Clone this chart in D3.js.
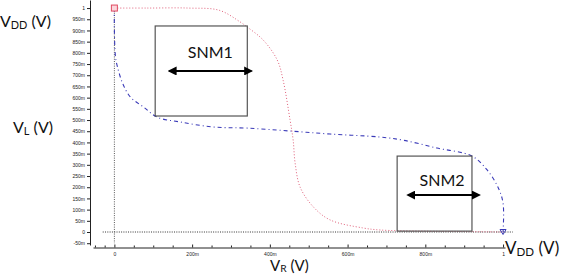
<!DOCTYPE html>
<html>
<head>
<meta charset="utf-8">
<script src="https://cdn.jsdelivr.net/npm/d3@7"></script>
<style>
  body { margin: 0; background: #fff; }
  svg { display: block; }
  .lbl { font-family: Lato, "Liberation Sans", sans-serif; fill: #111; }
  .axis text { font-family: "Liberation Sans", sans-serif; font-size: 5px; fill: #222; }
  .axis path, .axis line { stroke: #222; }
</style>
</head>
<body>
<div id="chart"></div>
<script>
// tick values / labels
var yTicks = [-0.05, 0, 0.05, 0.1, 0.15, 0.2, 0.25, 0.3, 0.35, 0.4, 0.45, 0.5, 0.55, 0.6, 0.65, 0.7, 0.75, 0.8, 0.85, 0.9, 0.95, 1]
var yTickLabels = ['-50m', '0', '50m', '100m', '150m', '200m', '250m', '300m', '350m', '400m', '450m', '500m', '550m', '600m', '650m', '700m', '750m', '800m', '850m', '900m', '950m', '1']
var xTicks = [0, 0.2, 0.4, 0.6, 0.8, 1]
var xTickLabels = ['0', '200m', '400m', '600m', '800m', '1']
var xMinorTicks = [-0.05, -0.025, 0.05, 0.1, 0.15, 0.25, 0.3, 0.35, 0.45, 0.5, 0.55, 0.65, 0.7, 0.75, 0.85, 0.9, 0.95]

// inverter 1 (red) : VR -> VL
var redX = [0, 0.085, 0.19, 0.27, 0.324, 0.342, 0.383, 0.419, 0.434, 0.452, 0.46, 0.465, 0.478, 0.512, 0.555, 0.64, 0.684, 0.787, 0.9, 1.0]
var redY = [1.0, 1.0, 1.0, 0.99, 0.9375, 0.915, 0.857, 0.768, 0.679, 0.5, 0.41, 0.308, 0.2, 0.112, 0.054, 0.018, 0.009, 0.004, 0.002, 0.0]

// inverter 2 (blue)
var blueX = [0, 0, 0.003, 0.008, 0.021, 0.041, 0.075, 0.11, 0.17, 0.254, 0.342, 0.452, 0.555, 0.684, 0.743, 0.83, 0.92, 0.959, 0.987, 1.0, 1.0]
var blueY = [1.0, 0.9, 0.78, 0.737, 0.665, 0.603, 0.558, 0.513, 0.491, 0.469, 0.464, 0.451, 0.4375, 0.424, 0.41, 0.375, 0.339, 0.277, 0.2, 0.129, 0.0]

// SNM boxes and arrows (data coordinates)
var snmNames = ['SNM1', 'SNM2']
var snmBoxX = [[0.105, 0.342], [0.7275, 0.92]]
var snmBoxY = [[0.518, 0.92], [0.004, 0.339]]
var snmArrowX = [[0.139, 0.355], [0.753, 0.941]]
var snmArrowY = [0.719, 0.165]
var snmTextX = [0.247, 0.843]
var snmTextY = [0.777, 0.205]

var width = 565
var height = 274

var x = d3.scaleLinear().domain([-0.055, 1.005]).range([93, 505])
var y = d3.scaleLinear().domain([-0.058, 1.036]).range([245, 0])

var svg = d3.select('#chart').append('svg')
    .attr('width', width)
    .attr('height', height)

var defs = svg.append('defs')
defs.append('marker')
    .attr('id', 'arrEnd')
    .attr('viewBox', '0 0 10 10')
    .attr('refX', 8).attr('refY', 5)
    .attr('markerWidth', 4.5).attr('markerHeight', 4.5)
    .attr('orient', 'auto-start-reverse')
    .append('path')
    .attr('d', 'M0,0 L10,5 L0,10 Z')
    .attr('fill', '#000')

// axes
var yAxis = d3.axisLeft(y)
    .tickValues(yTicks)
    .tickFormat(function(d, i) { return yTickLabels[i] })
    .tickSizeInner(3).tickSizeOuter(0).tickPadding(2)
svg.append('g').attr('class', 'axis')
    .attr('transform', 'translate(90,0)')
    .call(yAxis)

var xAxis = d3.axisBottom(x)
    .tickValues(xTicks)
    .tickFormat(function(d, i) { return xTickLabels[i] })
    .tickSizeInner(-3).tickSizeOuter(0).tickPadding(5)
svg.append('g').attr('class', 'axis')
    .attr('transform', 'translate(0,247.5)')
    .call(xAxis)

svg.append('g').attr('class', 'axis')
    .attr('transform', 'translate(0,247.5)')
    .call(d3.axisBottom(x).tickValues(xMinorTicks).tickFormat('').tickSizeInner(-2).tickSizeOuter(0))
    .select('.domain').remove()

// zero reference lines
svg.append('line')
    .attr('x1', x(-0.03)).attr('x2', x(1.025))
    .attr('y1', y(0)).attr('y2', y(0))
    .attr('stroke', '#333').attr('stroke-width', 1).attr('stroke-dasharray', '1,1.3')
svg.append('line')
    .attr('x1', x(0)).attr('x2', x(0))
    .attr('y1', y(1.01)).attr('y2', y(-0.05))
    .attr('stroke', '#555').attr('stroke-width', 1).attr('stroke-dasharray', '1,1.3')

// curves
var line = d3.line()
    .x(function(d) { return x(d[0]) })
    .y(function(d) { return y(d[1]) })
    .curve(d3.curveCatmullRom.alpha(0.5))

svg.append('path')
    .datum(blueX.map(function(v, i) { return [v, blueY[i]] }))
    .attr('d', line)
    .attr('fill', 'none')
    .attr('stroke', '#3a3ab8')
    .attr('stroke-width', 1.1)
    .attr('stroke-dasharray', '4,3,1,3')

svg.append('path')
    .datum(redX.map(function(v, i) { return [v, redY[i]] }))
    .attr('d', line)
    .attr('fill', 'none')
    .attr('stroke', '#e0607a')
    .attr('stroke-width', 1)
    .attr('stroke-dasharray', '1,2')

// end markers
svg.append('rect')
    .attr('x', x(redX[0]) - 3).attr('y', y(redY[0]) - 3)
    .attr('width', 6).attr('height', 6)
    .attr('fill', '#fbd6dc').attr('stroke', '#e04a60').attr('stroke-width', 1)
svg.append('path')
    .attr('transform', 'translate(' + x(blueX[blueX.length - 1]) + ',' + y(blueY[blueY.length - 1]) + ')')
    .attr('d', 'M-3,-2.5 L3,-2.5 L0,2.5 Z')
    .attr('fill', 'none').attr('stroke', '#3a3ab8').attr('stroke-width', 1)

// SNM annotations
snmNames.forEach(function(name, i) {
    svg.append('rect')
        .attr('x', x(snmBoxX[i][0]))
        .attr('y', y(snmBoxY[i][1]))
        .attr('width', x(snmBoxX[i][1]) - x(snmBoxX[i][0]))
        .attr('height', y(snmBoxY[i][0]) - y(snmBoxY[i][1]))
        .attr('fill', 'none')
        .attr('stroke', '#555')
        .attr('stroke-width', 1.2)

    svg.append('line')
        .attr('x1', x(snmArrowX[i][0]) + 1).attr('x2', x(snmArrowX[i][1]) - 1)
        .attr('y1', y(snmArrowY[i])).attr('y2', y(snmArrowY[i]))
        .attr('stroke', '#000').attr('stroke-width', 2)
        .attr('marker-start', 'url(#arrEnd)')
        .attr('marker-end', 'url(#arrEnd)')

    svg.append('text')
        .attr('class', 'lbl')
        .attr('x', x(snmTextX[i])).attr('y', y(snmTextY[i]))
        .attr('text-anchor', 'middle')
        .style('font-size', '16px')
        .text(name)
})

// axis titles
function voltLabel(px, py, sub, size, subDy) {
    var t = svg.append('text').attr('class', 'lbl')
        .attr('x', px).attr('y', py)
        .style('font-size', size + 'px')
    t.append('tspan').text('V')
    t.append('tspan').attr('dy', subDy).style('font-size', (size * 0.68) + 'px').text(sub)
    t.append('tspan').attr('dy', -subDy).text(' (V)')
}
voltLabel(0, 27, 'DD', 16, 2)
voltLabel(13, 133, 'L', 16, 2)
voltLabel(505, 254, 'DD', 17, 2)
voltLabel(270, 271, 'R', 15, 1)
</script>
</body>
</html>
